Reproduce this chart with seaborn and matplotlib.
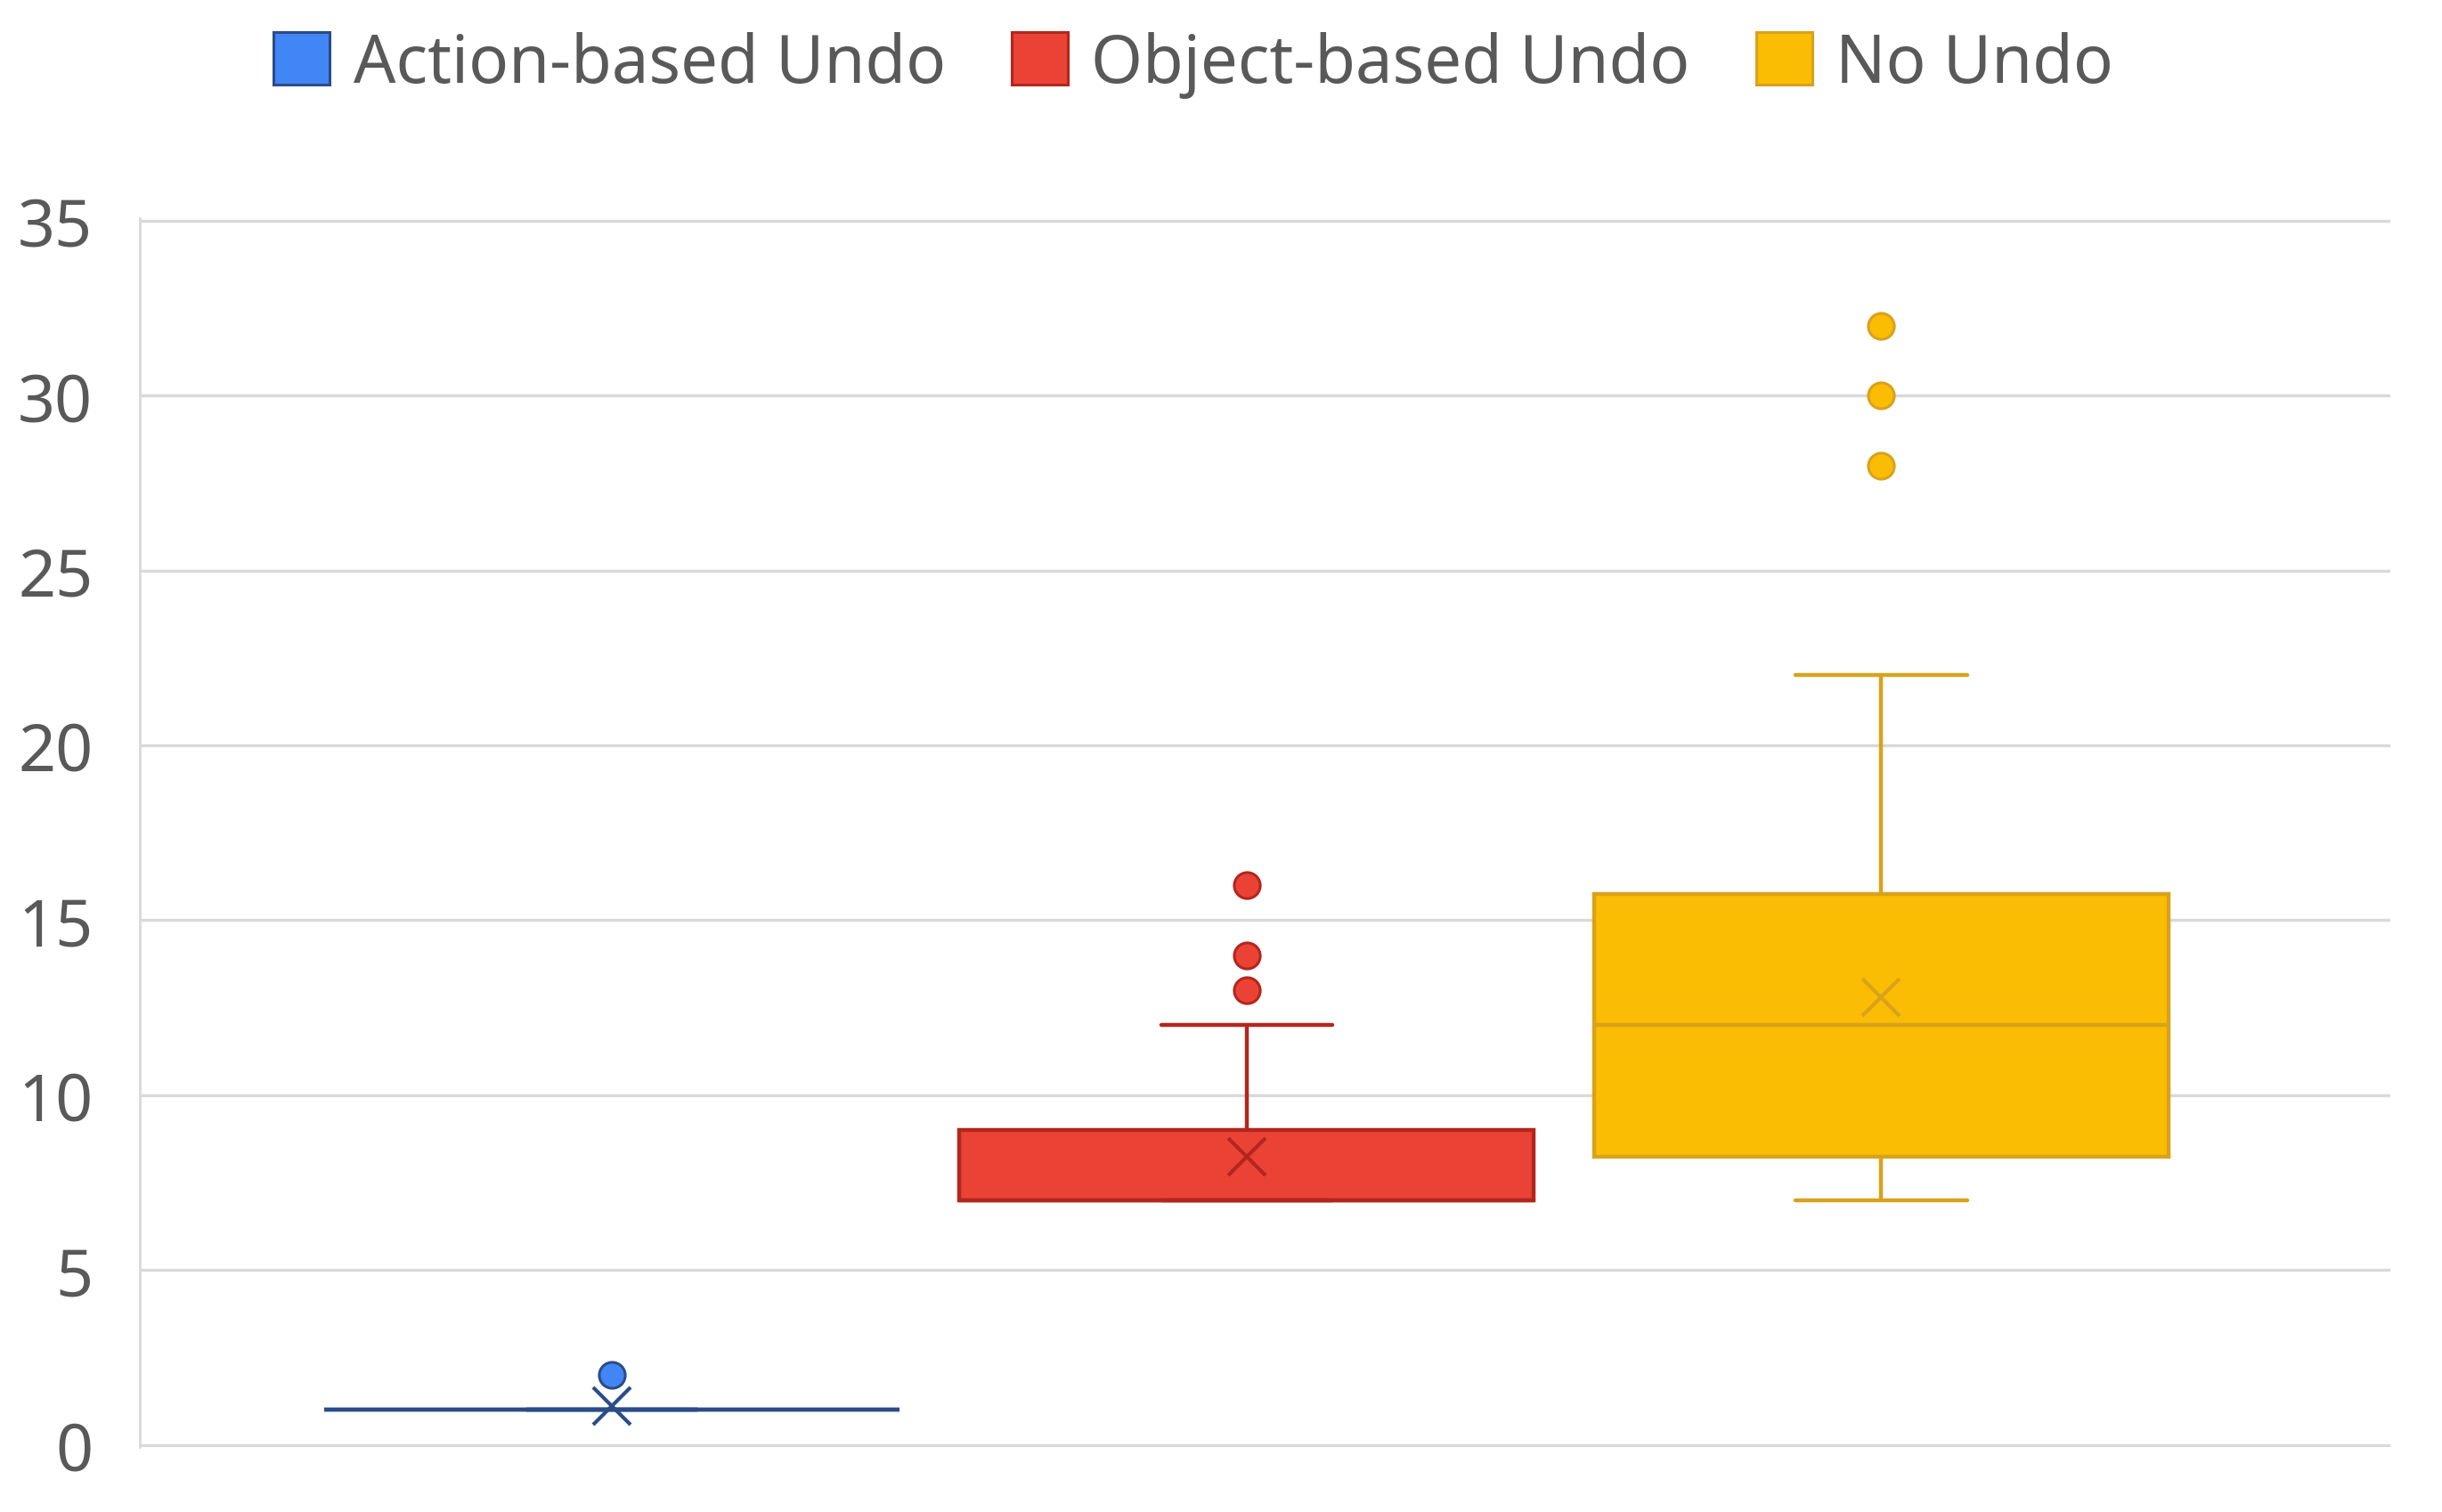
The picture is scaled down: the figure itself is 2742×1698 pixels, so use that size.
import numpy as np
import pandas as pd
import matplotlib
matplotlib.use("Agg")
import matplotlib.pyplot as plt
from matplotlib.patches import Patch
import seaborn as sns

# ---- data ----
conditions = ["Action-based Undo", "Object-based Undo", "No Undo"]
fill_colors = ["#4285F4", "#EA4335", "#FBBC04"]
edge_colors = ["#2B4C89", "#B3261E", "#D9A21B"]

action_values = [1, 1, 1, 1, 1, 1, 1, 1, 1, 2]
object_values = [7, 7, 7, 7, 7, 7, 7, 7, 7, 7, 7, 7, 7, 7, 7, 7, 7, 7, 7, 7, 7,
                 7, 7, 7, 7, 8, 8, 8, 9, 9,
                 9, 9, 9, 9, 10, 11, 12,
                 13, 14, 16]
no_undo_values = [7, 7, 7, 7, 7, 7, 7, 7, 8, 8, 8,
                  9, 9, 9, 9, 10, 10, 10, 11, 11,
                  12, 12,
                  12, 12, 12, 13, 13, 14, 14, 15, 15,
                  16, 16, 16, 16, 16, 16, 17,
                  22,
                  28, 30, 32]
y_ticks = [0, 5, 10, 15, 20, 25, 30, 35]

df = pd.DataFrame({
    "condition": [conditions[0]] * len(action_values)
                 + [conditions[1]] * len(object_values)
                 + [conditions[2]] * len(no_undo_values),
    "value": action_values + object_values + no_undo_values,
})

sns.set_theme(style="white")
plt.rcParams["font.family"] = ["Noto Sans", "DejaVu Sans"]

fig, ax = plt.subplots(figsize=(27.42, 16.99), dpi=100)
fig.subplots_adjust(left=0.0573, right=0.979, bottom=0.043, top=0.855)

for cond, fc, ec in zip(conditions, fill_colors, edge_colors):
    sub = df[df["condition"] == cond]
    sns.boxplot(
        data=sub, x="condition", y="value", order=conditions,
        color=fc, linecolor=ec, linewidth=3.2, width=0.9055, saturation=1,
        showmeans=True,
        meanprops=dict(marker="x", markeredgecolor=ec, markerfacecolor=ec,
                       markersize=30, markeredgewidth=3.0),
        flierprops=dict(marker="o", markerfacecolor=fc, markeredgecolor=ec,
                        markeredgewidth=2.2),
        fliersize=21, capwidths=0.27, whis=1.5, ax=ax,
    )

ax.set_xlim(-0.7436, 2.8025)
ax.set_ylim(-0.06, 35.06)
ax.set_yticks(y_ticks)
ax.set_xticks([])
ax.set_xlabel("")
ax.set_ylabel("")
ax.yaxis.grid(True, color="#d9d9d9", linewidth=2.4)
ax.set_axisbelow(True)
for s in ["top", "right", "bottom"]:
    ax.spines[s].set_visible(False)
ax.spines["left"].set_color("#d9d9d9")
ax.spines["left"].set_linewidth(2.0)
ax.tick_params(axis="y", length=0, pad=38, labelsize=53, labelcolor="#595959")

handles = [Patch(facecolor=fc, edgecolor=ec, linewidth=2.2, label=c)
           for c, fc, ec in zip(conditions, fill_colors, edge_colors)]
leg = fig.legend(handles=handles, loc="center", bbox_to_anchor=(0.4887, 0.957),
                 ncol=3, frameon=False, fontsize=53.5, handlelength=0.85,
                 handleheight=0.85, handletextpad=0.35, columnspacing=1.0)
for t in leg.get_texts():
    t.set_color("#595959")

fig.savefig("out.png", dpi=100)
